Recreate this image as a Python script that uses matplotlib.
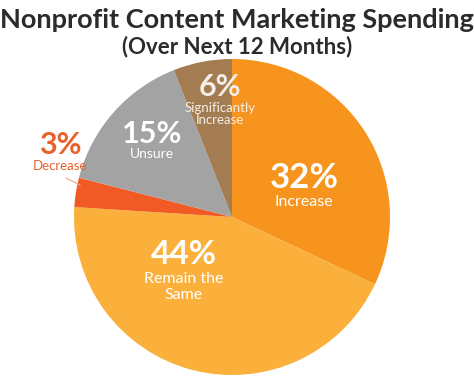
import numpy as np
import matplotlib
matplotlib.use("Agg")
import matplotlib.pyplot as plt

plt.rcParams['font.family'] = ['Lato', 'DejaVu Sans']

# data
categories = ["Increase", "Remain the\nSame", "Decrease", "Unsure", "Significantly\nIncrease"]
values = [32, 44, 3, 15, 6]
colors = ["#F7941D", "#FBB03B", "#F15A24", "#A3A3A3", "#A47C52"]

W, H = 474, 381
fig = plt.figure(figsize=(W / 100, H / 100), dpi=100)
ax = fig.add_axes([0, 0, 1, 1])

cx, cy, r = 232, H - 217, 158
wedges, _ = ax.pie(values, colors=colors, startangle=90, counterclock=False,
                   center=(cx, cy), radius=r, frame=True,
                   wedgeprops=dict(linewidth=0))
ax.set_xlim(0, W)
ax.set_ylim(0, H)
ax.set_aspect("equal")
ax.axis("off")

# label layout (pixel positions from top-left), kept apart from the data
label_pos = [(304, 178), (184, 254), (60, 145), (152, 134), (220, 87)]
sub_gap = [17, 18, 15, 14, 15]
pct_size = [25, 24, 22, 22, 22]
sub_size = [11.5, 11.5, 9.5, 10, 9.5]
line_sp = [1.0, 1.15, 1.0, 1.0, 1.0]
txt_col = ["white", "white", "#E8602C", "white", "#F4EEE6"]

for i, (v, lab) in enumerate(zip(values, categories)):
    x, y = label_pos[i]
    ax.text(x, H - y, f"{v}%", ha="center", va="center", fontsize=pct_size[i],
            fontweight="bold", color=txt_col[i])
    ax.text(x, H - y - sub_gap[i], lab, ha="center", va="top", fontsize=sub_size[i],
            color=txt_col[i], linespacing=line_sp[i])

# leader line for the small slice
ax.plot([66, 80], [H - 178, H - 185], color="#F4A582", lw=0.8)

fig.text(0.5, 1 - 20 / H, "Nonprofit Content Marketing Spending", ha="center", va="center",
         fontsize=19.5, fontweight="bold", color="#2B2B2B")
fig.text(0.5, 1 - 47 / H, "(Over Next 12 Months)", ha="center", va="center",
         fontsize=16, fontweight="bold", color="#2B2B2B")

fig.savefig("out.png", dpi=100)
